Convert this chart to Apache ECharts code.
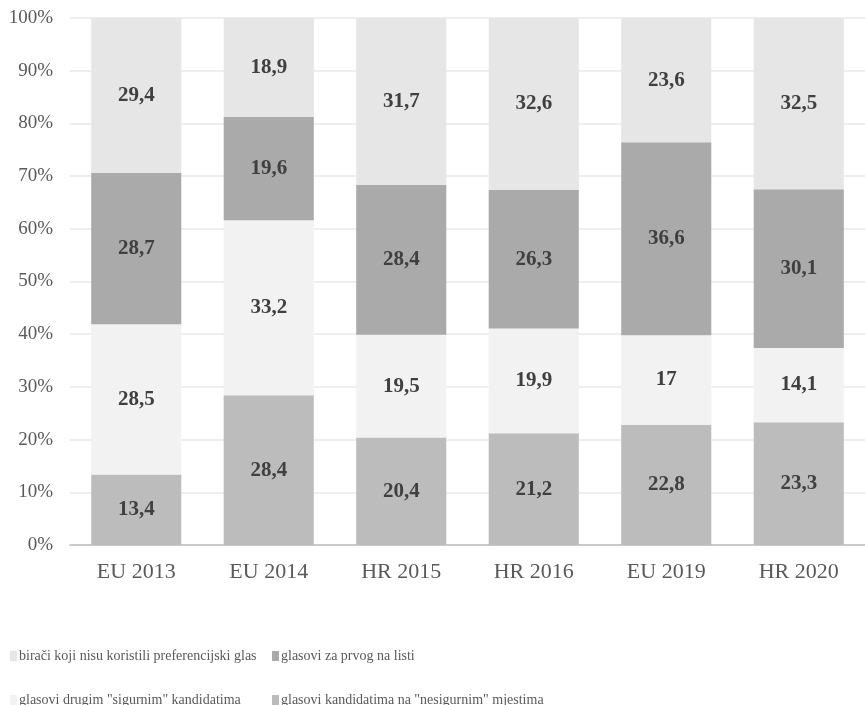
<!DOCTYPE html>
<html lang="hr">
  <head>
    <meta charset="UTF-8" />
    <title>Preferencijski glasovi</title>
    <style type="text/css">
      body {
        margin: 0;
        background-color: #fff;
      }

      #main {
        width: 865px;
        height: 705px;
      }
    </style>
  </head>
  <body>
    <div id="main"></div>
    <script src="https://cdn.jsdelivr.net/npm/echarts@6/dist/echarts.min.js"></script>
    <script type="text/javascript">
      var categories = ["EU 2013", "EU 2014", "HR 2015", "HR 2016", "EU 2019", "HR 2020"];
      var seriesNames = [
        "birači koji nisu koristili preferencijski glas",
        "glasovi za prvog na listi",
        'glasovi drugim "sigurnim" kandidatima',
        'glasovi kandidatima na "nesigurnim" mjestima',
      ];
      // bottom to top of each bar
      var nesigurni = [13.4, 28.4, 20.4, 21.2, 22.8, 23.3];
      var sigurni = [28.5, 33.2, 19.5, 19.9, 17, 14.1];
      var prvi = [28.7, 19.6, 28.4, 26.3, 36.6, 30.1];
      var nisuKoristili = [29.4, 18.9, 31.7, 32.6, 23.6, 32.5];
      var yTicks = [0, 10, 20, 30, 40, 50, 60, 70, 80, 90, 100];

      var chartDom = document.getElementById("main");
      var myChart = echarts.init(chartDom);
      var font = "'Liberation Serif', 'Times New Roman', serif";

      function makeSeries(name, data, color) {
        return {
          name: name,
          type: "bar",
          stack: "total",
          barCategoryGap: "32%",
          data: data,
          itemStyle: { color: color },
          label: {
            show: true,
            position: "inside",
            fontFamily: font,
            fontSize: 21,
            fontWeight: "bold",
            color: "#404040",
            formatter: function (p) {
              return String(p.value).replace(".", ",");
            },
          },
        };
      }

      function legendAt(name, left, top) {
        return {
          data: [name],
          left: left,
          top: top,
          icon: "rect",
          itemWidth: 7,
          itemHeight: 10,
          itemGap: 0,
          selectedMode: false,
          textStyle: { fontFamily: font, fontSize: 14, color: "#595959", padding: [0, 0, 0, -3] },
        };
      }

      var option = {
        animation: false,
        legend: [
          legendAt(seriesNames[0], 5, 644),
          legendAt(seriesNames[1], 267, 644),
          legendAt(seriesNames[2], 5, 688),
          legendAt(seriesNames[3], 267, 688),
        ],
        grid: { left: 70, top: 18, width: 804, height: 527 },
        xAxis: {
          type: "category",
          data: categories,
          axisTick: { show: false },
          axisLine: { lineStyle: { color: "#bfbfbf", width: 1.5 } },
          axisLabel: { fontFamily: font, fontSize: 22, color: "#595959", margin: 16 },
        },
        yAxis: {
          type: "value",
          min: yTicks[0],
          max: yTicks[yTicks.length - 1],
          interval: 10,
          axisLabel: {
            fontFamily: font,
            fontSize: 19,
            color: "#595959",
            margin: 17,
            formatter: "{value}%",
          },
          splitLine: { lineStyle: { color: "#e8e8e8", width: 1.5 } },
        },
        series: [
          makeSeries(seriesNames[3], nesigurni, "#bcbcbc"),
          makeSeries(seriesNames[2], sigurni, "#f2f2f2"),
          makeSeries(seriesNames[1], prvi, "#aaaaaa"),
          makeSeries(seriesNames[0], nisuKoristili, "#e6e6e6"),
        ],
      };

      myChart.setOption(option);
    </script>
  </body>
</html>
